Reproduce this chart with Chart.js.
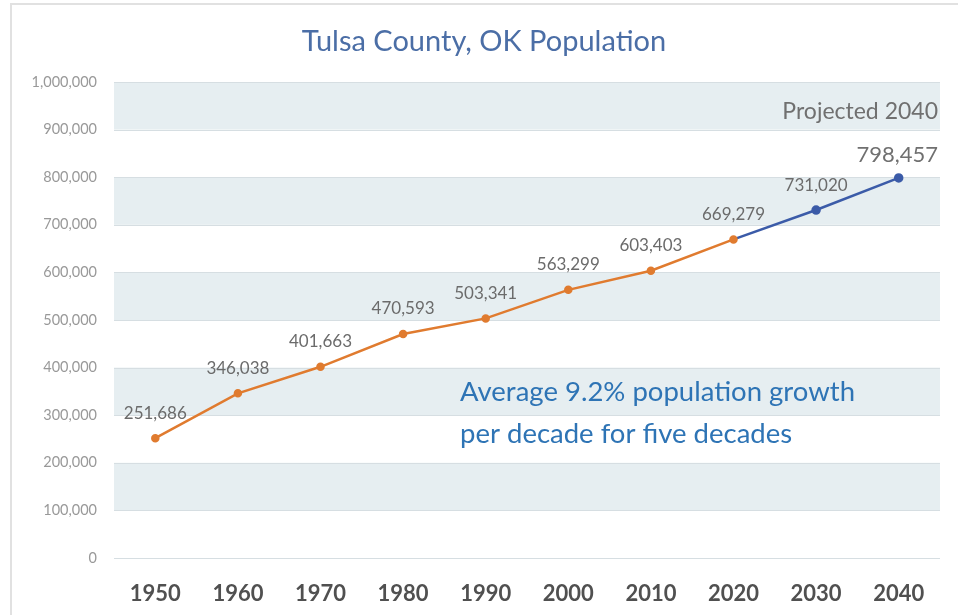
<!DOCTYPE html>
<html>
<head>
<meta charset="utf-8">
<script src="https://cdn.jsdelivr.net/npm/chart.js@4"></script>
<style>
  html, body { margin: 0; padding: 0; background: #fff; }
  #wrap { position: relative; width: 958px; height: 615px; }
</style>
</head>
<body>
<div id="wrap"><canvas id="popChart" width="958" height="615"></canvas></div>
<script>
    // population by decade, census years then projections
    var years = ['1950', '1960', '1970', '1980', '1990', '2000', '2010', '2020', '2030', '2040'];
    var census = [251686, 346038, 401663, 470593, 503341, 563299, 603403, 669279, null, null];
    var projected = [null, null, null, null, null, null, null, 669279, 731020, 798457];
    var yTicks = [0, 100000, 200000, 300000, 400000, 500000, 600000, 700000, 800000, 900000, 1000000];

    var titleText = 'Tulsa County, OK Population';
    var projectedNote = 'Projected 2040';
    var growthNote = ['Average 9.2% population growth', 'per decade for five decades'];

    var FONT = 'Lato, "Open Sans", sans-serif';
    var fmt = function (v) { return v.toLocaleString('en-US'); };

    // frame, shaded bands and title
    var backdrop = {
        id: 'backdrop',
        beforeDraw: function (chart) {
            var ctx = chart.ctx;
            var area = chart.chartArea;
            var y = chart.scales.y;
            ctx.save();
            ctx.fillStyle = '#fff';
            ctx.fillRect(0, 0, chart.width, chart.height);
            ctx.fillStyle = '#e1e1e1';
            ctx.fillRect(10, 3, chart.width - 10, 2);
            ctx.fillRect(10, 3, 2, chart.height - 3);

            for (var i = 1; i < yTicks.length; i += 2) {
                var top = y.getPixelForValue(yTicks[i + 1]);
                var bot = y.getPixelForValue(yTicks[i]);
                ctx.fillStyle = '#e6eef1';
                ctx.fillRect(area.left, top, area.right - area.left, bot - top);
            }
            ctx.strokeStyle = '#d6dee2';
            ctx.lineWidth = 1;
            yTicks.forEach(function (t) {
                var py = Math.round(y.getPixelForValue(t)) + 0.5;
                ctx.beginPath();
                ctx.moveTo(area.left, py);
                ctx.lineTo(area.right, py);
                ctx.stroke();
            });

            ctx.fillStyle = '#4b6ea6';
            ctx.font = '29px ' + FONT;
            ctx.textAlign = 'center';
            ctx.textBaseline = 'middle';
            ctx.fillText(titleText, 484, 42);
            ctx.restore();
        },
        afterDatasetsDraw: function (chart) {
            var ctx = chart.ctx;
            var area = chart.chartArea;
            ctx.save();
            ctx.textBaseline = 'middle';

            // value labels above the census points
            var m0 = chart.getDatasetMeta(0);
            ctx.fillStyle = '#6b6b6b';
            ctx.font = '17px ' + FONT;
            ctx.textAlign = 'center';
            census.forEach(function (v, i) {
                if (v === null) return;
                var p = m0.data[i];
                ctx.fillText(fmt(v), p.x, p.y - 25);
            });

            // projection labels
            var m1 = chart.getDatasetMeta(1);
            projected.forEach(function (v, i) {
                if (v === null || census[i] !== null) return;
                var p = m1.data[i];
                if (i === projected.length - 1) {
                    ctx.fillStyle = '#707070';
                    ctx.textAlign = 'right';
                    ctx.font = '22px ' + FONT;
                    ctx.fillText(fmt(v), area.right - 2, p.y - 23);
                    ctx.font = '23px ' + FONT;
                    ctx.fillText(projectedNote, area.right - 2, p.y - 66);
                } else {
                    ctx.font = '17px ' + FONT;
                    ctx.fillStyle = '#6b6b6b';
                    ctx.textAlign = 'center';
                    ctx.fillText(fmt(v), p.x, p.y - 25);
                }
            });

            // growth note
            ctx.fillStyle = '#2e74b5';
            ctx.font = '27.5px ' + FONT;
            ctx.textAlign = 'left';
            ctx.fillText(growthNote[0], 460, 392);
            ctx.fillText(growthNote[1], 460, 434);
            ctx.restore();
        }
    };

    var chart = new Chart(document.getElementById('popChart'), {
        type: 'line',
        data: {
            labels: years,
            datasets: [{
                label: 'Census',
                data: census,
                borderColor: '#e07b2f',
                backgroundColor: '#e07b2f',
                borderWidth: 2.5,
                pointRadius: 3,
                pointHoverRadius: 3,
                tension: 0
            }, {
                label: 'Projected',
                data: projected,
                borderColor: '#3b5ba8',
                backgroundColor: '#3b5ba8',
                borderWidth: 2.5,
                pointRadius: projected.map(function (v, i) { return census[i] !== null ? 0 : 3.5; }),
                pointHoverRadius: 3.5,
                tension: 0
            }]
        },
        options: {
            responsive: false,
            animation: false,
            events: [],
            layout: { padding: { left: 10, right: 18, top: 82, bottom: 0 } },
            plugins: {
                legend: { display: false },
                title: { display: false },
                tooltip: { enabled: false }
            },
            scales: {
                x: {
                    offset: true,
                    grid: { display: false, drawTicks: false },
                    border: { display: false },
                    ticks: {
                        padding: 23,
                        color: '#505050',
                        font: { family: FONT, size: 22, weight: 'bold' }
                    },
                    afterFit: function (s) { s.height = 57; }
                },
                y: {
                    min: 0,
                    max: 1000000,
                    grid: { display: false, drawTicks: false },
                    border: { display: false },
                    afterBuildTicks: function (s) {
                        s.ticks = yTicks.map(function (v) { return { value: v }; });
                    },
                    ticks: {
                        padding: 17,
                        color: '#999999',
                        font: { family: FONT, size: 14.5 },
                        callback: function (v) { return fmt(v); }
                    },
                    afterFit: function (s) { s.width = 104; }
                }
            }
        },
        plugins: [backdrop]
    });
</script>
</body>
</html>
